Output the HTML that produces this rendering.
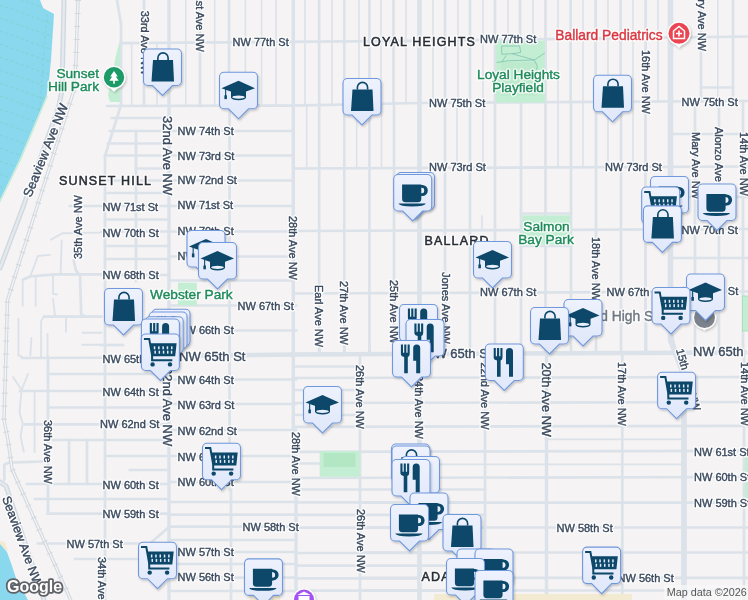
<!DOCTYPE html>
<html><head><meta charset="utf-8"><style>
html,body{margin:0;padding:0;width:748px;height:600px;overflow:hidden;background:#f5f3f3}
svg text{font-family:"Liberation Sans",sans-serif}
svg{will-change:transform}
</style></head><body>
<svg width="748" height="600" viewBox="0 0 748 600" style="position:absolute;left:0;top:0">
<defs>
<linearGradient id="mg" x1="0" y1="0" x2="0" y2="1"><stop offset="0" stop-color="#eef2fd"/><stop offset="1" stop-color="#dfe7fa"/></linearGradient>
<filter id="sh" x="-30%" y="-30%" width="160%" height="160%"><feDropShadow dx="1" dy="1.5" stdDeviation="1.2" flood-color="#000" flood-opacity="0.22"/></filter>
<g id="bub"><path d="M-14.5,-46.5 H14.5 A4.5,4.5 0 0 1 19,-42 V-14.5 A4.5,4.5 0 0 1 14.5,-10 H10 L0,0 L-10,-10 H-14.5 A4.5,4.5 0 0 1 -19,-14.5 V-42 A4.5,4.5 0 0 1 -14.5,-46.5 Z" fill="url(#mg)" stroke="#7098dc" stroke-width="1.1"/></g>
<g id="i_bag" fill="#094769"><path d="M-9.5,-35.5 H10.5 L11.5,-14 H-11 Z"/><path d="M-4.6,-35.5 V-37.6 A5.1,5 0 0 1 5.6,-37.6 V-35.5" fill="none" stroke="#094769" stroke-width="1.6"/></g>
<g id="i_cap" fill="#094769"><path d="M0,-38 L16.5,-30.5 L0,-24.5 L-17,-30.5 Z"/><path d="M-7.5,-28.5 L0,-25.8 L7.5,-28.5 V-21.2 A7.5,2.6 0 0 1 -7.5,-21.2 Z"/><ellipse cx="0" cy="-21.6" rx="6.3" ry="1.6" fill="#e9eefb"/><rect x="-13.4" y="-30" width="1.1" height="8"/><path d="M-14.1,-23.5 h2.5 v3.8 h-2.5z"/></g>
<g id="i_food" fill="#094769"><path d="M-10.6,-42.5 h2.1 v8.3 h1.25 v-8.3 h2.1 v8.3 h1.25 v-8.3 h2.1 v9.5 Q-1.8,-30.6 -3.7,-30 V-13.8 h-3.6 V-30 Q-10.6,-30.6 -10.6,-33 Z"/><path d="M5.2,-42.5 A3.5,3.5 0 0 1 8.7,-39 V-13.8 h-4 V-26.2 h-3 V-39 A3.5,3.5 0 0 1 5.2,-42.5 Z"/></g>
<g id="i_coffee" fill="#094769"><path d="M-10.6,-36.6 H8.6 V-22 A3.5,3.5 0 0 1 5.1,-18.7 H-7.1 A3.5,3.5 0 0 1 -10.6,-22 Z"/><path d="M8.6,-36 A5.6,5.6 0 0 1 8.6,-25 V-27.6 A3,2.8 0 0 0 8.6,-33.4 Z"/><path d="M8,-36 h1.5 a5.6,5.5 0 0 1 0,11 h-1.5 v-2.6 h1.2 a2.6,2.9 0 0 0 0,-5.8 h-1.2z"/><path d="M-14.3,-17.5 H13.2 Q12,-14.6 -0.5,-14.6 Q-13,-14.6 -14.3,-17.5 Z"/></g>
<g id="i_cart" fill="#094769"><path d="M-16.5,-41.6 H-11.2 L-8.3,-25.3 H13.9 L15.1,-36.3 H-10.1" fill="none" stroke="#094769" stroke-width="2"/><path d="M-10.1,-36.3 H15.1 L13.9,-25.3 H-8.3 Z"/><path d="M-8.3,-25.3 V-20.2 H11.9" fill="none" stroke="#094769" stroke-width="2"/><circle cx="-7.8" cy="-16.1" r="2.2"/><circle cx="9.6" cy="-16.1" r="2.2"/><g fill="#e4ebfb"><rect x="-6.6" y="-34.2" width="1.5" height="3"/><rect x="-2.3" y="-34.2" width="1.5" height="3"/><rect x="2" y="-34.2" width="1.5" height="3"/><rect x="6.3" y="-34.2" width="1.5" height="3"/><rect x="10.6" y="-34.2" width="1.5" height="3"/><rect x="-6" y="-29.8" width="1.5" height="3"/><rect x="-1.8" y="-29.8" width="1.5" height="3"/><rect x="2.4" y="-29.8" width="1.5" height="3"/><rect x="6.6" y="-29.8" width="1.5" height="3"/><rect x="10.4" y="-29.8" width="1.5" height="3"/></g></g>
</defs>
<rect width="748" height="600" fill="#f5f3f3"/>
<path d="M0,0 L40,0 L43,8 L54,14 L51,60 L49,80 L46.5,96 L20,158.5 L0,200 Z" fill="#8ad8ee"/>
<clipPath id="wc"><path d="M0,0 L40,0 L43,8 L54,14 L51,60 L49,80 L46.5,96 L20,158.5 L0,200 Z"/></clipPath>
<g clip-path="url(#wc)" stroke="#7ccfc4" stroke-width="0.9" stroke-dasharray="3 2.5" opacity="0.75"><line x1="0" y1="-8" x2="56" y2="12"/><line x1="0" y1="5" x2="56" y2="25"/><line x1="0" y1="18" x2="56" y2="38"/><line x1="0" y1="31" x2="56" y2="51"/><line x1="0" y1="44" x2="56" y2="64"/><line x1="0" y1="57" x2="56" y2="77"/><line x1="0" y1="70" x2="56" y2="90"/><line x1="0" y1="83" x2="56" y2="103"/><line x1="0" y1="96" x2="56" y2="116"/><line x1="0" y1="109" x2="56" y2="129"/><line x1="0" y1="122" x2="56" y2="142"/><line x1="0" y1="135" x2="56" y2="155"/><line x1="0" y1="148" x2="56" y2="168"/><line x1="0" y1="161" x2="56" y2="181"/><line x1="0" y1="174" x2="56" y2="194"/><line x1="0" y1="187" x2="56" y2="207"/><line x1="47" y1="14" x2="38" y2="130"/></g>
<path d="M46.5,96 L20,158.5 L0,200 L0,203 L21.5,159 L48,96 Z" fill="#c8ecd5"/>
<path d="M0,541 L5,542 L8,551 L0,548 Z" fill="#f3ead2"/>
<path d="M0,544 L7,552 L11.7,565 L16.3,579 L28,600 L0,600 Z" fill="#8ad8ee"/>
<line x1="144" y1="0" x2="144" y2="105.92" stroke="#dce2e9" stroke-width="2.7" stroke-linecap="square"/>
<line x1="185.8" y1="0" x2="185.8" y2="105.82962162162161" stroke="#dce2e9" stroke-width="1.6" stroke-linecap="square"/>
<line x1="200" y1="0" x2="200" y2="105.79891891891891" stroke="#dce2e9" stroke-width="2.7" stroke-linecap="square"/>
<line x1="214.7" y1="0" x2="214.7" y2="105.76713513513513" stroke="#dce2e9" stroke-width="1.6" stroke-linecap="square"/>
<line x1="245.4" y1="0" x2="245.4" y2="105.70075675675675" stroke="#dce2e9" stroke-width="1.6" stroke-linecap="square"/>
<line x1="261.6" y1="0" x2="261.6" y2="105.66572972972972" stroke="#dce2e9" stroke-width="1.6" stroke-linecap="square"/>
<line x1="276" y1="0" x2="276" y2="105.63459459459459" stroke="#dce2e9" stroke-width="1.6" stroke-linecap="square"/>
<line x1="305" y1="0" x2="305" y2="105.33385826771654" stroke="#dce2e9" stroke-width="1.6" stroke-linecap="square"/>
<line x1="332" y1="0" x2="332" y2="104.78110236220472" stroke="#dce2e9" stroke-width="1.6" stroke-linecap="square"/>
<line x1="359" y1="0" x2="359" y2="104.2283464566929" stroke="#dce2e9" stroke-width="1.6" stroke-linecap="square"/>
<line x1="381" y1="0" x2="381" y2="103.77795275590552" stroke="#dce2e9" stroke-width="1.6" stroke-linecap="square"/>
<line x1="393.5" y1="0" x2="393.5" y2="103.52204724409448" stroke="#dce2e9" stroke-width="2.7" stroke-linecap="square"/>
<line x1="406" y1="0" x2="406" y2="103.26614173228346" stroke="#dce2e9" stroke-width="1.6" stroke-linecap="square"/>
<line x1="433" y1="0" x2="433" y2="102.91489361702128" stroke="#dce2e9" stroke-width="1.6" stroke-linecap="square"/>
<line x1="445" y1="0" x2="445" y2="102.8419452887538" stroke="#dce2e9" stroke-width="2.7" stroke-linecap="square"/>
<line x1="458" y1="0" x2="458" y2="102.7629179331307" stroke="#dce2e9" stroke-width="1.6" stroke-linecap="square"/>
<line x1="470" y1="0" x2="470" y2="102.68996960486322" stroke="#dce2e9" stroke-width="2.7" stroke-linecap="square"/>
<line x1="483" y1="0" x2="483" y2="102.61094224924013" stroke="#dce2e9" stroke-width="1.6" stroke-linecap="square"/>
<line x1="495" y1="0" x2="495" y2="102.53799392097264" stroke="#dce2e9" stroke-width="2.7" stroke-linecap="square"/>
<line x1="508" y1="0" x2="508" y2="102.45896656534954" stroke="#dce2e9" stroke-width="1.6" stroke-linecap="square"/>
<line x1="520" y1="0" x2="520" y2="102.38601823708207" stroke="#dce2e9" stroke-width="2.7" stroke-linecap="square"/>
<line x1="533" y1="0" x2="533" y2="102.30699088145897" stroke="#dce2e9" stroke-width="1.6" stroke-linecap="square"/>
<line x1="545.5" y1="0" x2="545.5" y2="102.23100303951368" stroke="#dce2e9" stroke-width="2.7" stroke-linecap="square"/>
<line x1="558" y1="0" x2="558" y2="102.15501519756839" stroke="#dce2e9" stroke-width="1.6" stroke-linecap="square"/>
<line x1="570.6" y1="0" x2="570.6" y2="102.07841945288754" stroke="#dce2e9" stroke-width="2.7" stroke-linecap="square"/>
<line x1="583" y1="0" x2="583" y2="102.0030395136778" stroke="#dce2e9" stroke-width="1.6" stroke-linecap="square"/>
<line x1="595.6" y1="0" x2="595.6" y2="101.92644376899696" stroke="#dce2e9" stroke-width="2.7" stroke-linecap="square"/>
<line x1="608" y1="0" x2="608" y2="101.85106382978724" stroke="#dce2e9" stroke-width="1.6" stroke-linecap="square"/>
<line x1="620.6" y1="0" x2="620.6" y2="101.77446808510638" stroke="#dce2e9" stroke-width="2.7" stroke-linecap="square"/>
<line x1="633" y1="0" x2="633" y2="101.69908814589665" stroke="#dce2e9" stroke-width="1.6" stroke-linecap="square"/>
<line x1="645.6" y1="0" x2="645.6" y2="101.62249240121581" stroke="#dce2e9" stroke-width="2.7" stroke-linecap="square"/>
<line x1="658" y1="0" x2="658" y2="101.54711246200608" stroke="#dce2e9" stroke-width="1.6" stroke-linecap="square"/>
<line x1="701" y1="0" x2="701" y2="101.28571428571429" stroke="#dce2e9" stroke-width="2.7" stroke-linecap="square"/>
<line x1="717.8" y1="0" x2="717.8" y2="101.18358662613981" stroke="#dce2e9" stroke-width="1.6" stroke-linecap="square"/>
<line x1="733" y1="0" x2="733" y2="101.09118541033435" stroke="#dce2e9" stroke-width="2.7" stroke-linecap="square"/>
<line x1="131.7" y1="43.01484429065744" x2="131.7" y2="105.9465945945946" stroke="#dce2e9" stroke-width="1.6" stroke-linecap="square"/>
<line x1="157" y1="42.813494809688585" x2="157" y2="105.89189189189189" stroke="#dce2e9" stroke-width="1.6" stroke-linecap="square"/>
<line x1="229" y1="0" x2="229" y2="105.7362162162162" stroke="#dce2e9" stroke-width="2.7" stroke-linecap="square"/>
<line x1="319.2" y1="0" x2="319.2" y2="105.04314960629921" stroke="#dce2e9" stroke-width="2.7" stroke-linecap="square"/>
<line x1="344.3" y1="0" x2="344.3" y2="104.52929133858268" stroke="#dce2e9" stroke-width="2.7" stroke-linecap="square"/>
<line x1="369.4" y1="0" x2="369.4" y2="104.01543307086614" stroke="#dce2e9" stroke-width="2.7" stroke-linecap="square"/>
<polyline points="121,43.1 410,40.8 748,36.5" fill="none" stroke="#dce2e9" stroke-width="2.7" stroke-linejoin="round" stroke-linecap="round"/>
<polyline points="107,106.0 292,105.6 419,103.0 748,101.0" fill="none" stroke="#dce2e9" stroke-width="2.7" stroke-linejoin="round" stroke-linecap="round"/>
<polyline points="117,0 119,12 121,24 121,105" fill="none" stroke="#dce2e9" stroke-width="2.7" stroke-linejoin="round" stroke-linecap="round"/>
<polyline points="121,105 105,156 105,600" fill="none" stroke="#dce2e9" stroke-width="2.7" stroke-linejoin="round" stroke-linecap="round"/>
<line x1="112" y1="118" x2="169" y2="118" stroke="#dce2e9" stroke-width="2.7" stroke-linecap="square"/>
<line x1="110" y1="131" x2="293.3" y2="131" stroke="#dce2e9" stroke-width="2.7" stroke-linecap="square"/>
<line x1="108" y1="143.5" x2="169" y2="143.5" stroke="#dce2e9" stroke-width="2.7" stroke-linecap="square"/>
<line x1="105" y1="155.5" x2="293.3" y2="155.5" stroke="#dce2e9" stroke-width="2.7" stroke-linecap="square"/>
<line x1="136" y1="168.5" x2="169" y2="168.5" stroke="#dce2e9" stroke-width="2.7" stroke-linecap="square"/>
<line x1="105" y1="180.5" x2="293.3" y2="180.5" stroke="#dce2e9" stroke-width="2.7" stroke-linecap="square"/>
<line x1="105" y1="193" x2="169" y2="193" stroke="#dce2e9" stroke-width="2.7" stroke-linecap="square"/>
<line x1="70" y1="206" x2="293.3" y2="206" stroke="#dce2e9" stroke-width="2.7" stroke-linecap="square"/>
<line x1="105" y1="219.5" x2="169" y2="219.5" stroke="#dce2e9" stroke-width="2.7" stroke-linecap="square"/>
<line x1="101.7" y1="231.5" x2="293.3" y2="231.5" stroke="#dce2e9" stroke-width="2.7" stroke-linecap="square"/>
<line x1="105" y1="246" x2="169" y2="246" stroke="#dce2e9" stroke-width="2.7" stroke-linecap="square"/>
<line x1="169" y1="256.5" x2="293.3" y2="256.5" stroke="#dce2e9" stroke-width="2.7" stroke-linecap="square"/>
<line x1="105" y1="259" x2="169" y2="259" stroke="#dce2e9" stroke-width="2.7" stroke-linecap="square"/>
<line x1="101.7" y1="275" x2="169" y2="275" stroke="#dce2e9" stroke-width="2.7" stroke-linecap="square"/>
<line x1="169" y1="280.5" x2="293.3" y2="280.5" stroke="#dce2e9" stroke-width="2.7" stroke-linecap="square"/>
<line x1="136" y1="131" x2="136" y2="281" stroke="#dce2e9" stroke-width="2.7" stroke-linecap="square"/>
<line x1="229.5" y1="105" x2="229.5" y2="490" stroke="#dce2e9" stroke-width="2.7" stroke-linecap="square"/>
<line x1="231" y1="490" x2="231" y2="600" stroke="#dce2e9" stroke-width="2.7" stroke-linecap="square"/>
<line x1="78" y1="207" x2="78" y2="256" stroke="#dce2e9" stroke-width="2.7" stroke-linecap="square"/>
<line x1="319.2" y1="105.04314960629921" x2="319.2" y2="353" stroke="#dce2e9" stroke-width="2.7" stroke-linecap="square"/>
<line x1="344.3" y1="104.52929133858268" x2="344.3" y2="353" stroke="#dce2e9" stroke-width="2.7" stroke-linecap="square"/>
<line x1="369.4" y1="104.01543307086614" x2="369.4" y2="353" stroke="#dce2e9" stroke-width="2.7" stroke-linecap="square"/>
<line x1="394" y1="103.51181102362204" x2="394" y2="353" stroke="#dce2e9" stroke-width="2.7" stroke-linecap="square"/>
<line x1="445" y1="102.8419452887538" x2="445" y2="353" stroke="#dce2e9" stroke-width="2.7" stroke-linecap="square"/>
<line x1="470" y1="102.68996960486322" x2="470" y2="353" stroke="#dce2e9" stroke-width="2.7" stroke-linecap="square"/>
<line x1="495" y1="102.53799392097264" x2="495" y2="353" stroke="#dce2e9" stroke-width="2.7" stroke-linecap="square"/>
<line x1="521" y1="102.37993920972644" x2="521" y2="353" stroke="#dce2e9" stroke-width="2.7" stroke-linecap="square"/>
<line x1="545.5" y1="102.23100303951368" x2="545.5" y2="353" stroke="#dce2e9" stroke-width="2.7" stroke-linecap="square"/>
<line x1="571" y1="102.07598784194529" x2="571" y2="353" stroke="#dce2e9" stroke-width="2.7" stroke-linecap="square"/>
<line x1="596" y1="101.92401215805471" x2="596" y2="353" stroke="#dce2e9" stroke-width="2.7" stroke-linecap="square"/>
<line x1="621" y1="101.77203647416414" x2="621" y2="353" stroke="#dce2e9" stroke-width="2.7" stroke-linecap="square"/>
<line x1="645.5" y1="101.62310030395136" x2="645.5" y2="353" stroke="#dce2e9" stroke-width="2.7" stroke-linecap="square"/>
<line x1="695" y1="101.32218844984803" x2="695" y2="353" stroke="#dce2e9" stroke-width="2.7" stroke-linecap="square"/>
<line x1="719" y1="101.17629179331307" x2="719" y2="353" stroke="#dce2e9" stroke-width="2.7" stroke-linecap="square"/>
<line x1="743" y1="101.03039513677811" x2="743" y2="353" stroke="#dce2e9" stroke-width="2.7" stroke-linecap="square"/>
<line x1="306.7" y1="105.29905511811023" x2="306.7" y2="167" stroke="#dce2e9" stroke-width="1.6" stroke-linecap="square"/>
<line x1="356.7" y1="104.27543307086614" x2="356.7" y2="167" stroke="#dce2e9" stroke-width="1.6" stroke-linecap="square"/>
<line x1="381.5" y1="103.76771653543307" x2="381.5" y2="167" stroke="#dce2e9" stroke-width="1.6" stroke-linecap="square"/>
<line x1="457" y1="102.76899696048632" x2="457" y2="167" stroke="#dce2e9" stroke-width="1.6" stroke-linecap="square"/>
<line x1="483" y1="102.61094224924013" x2="483" y2="167" stroke="#dce2e9" stroke-width="1.6" stroke-linecap="square"/>
<line x1="558" y1="102.15501519756839" x2="558" y2="167" stroke="#dce2e9" stroke-width="1.6" stroke-linecap="square"/>
<line x1="583" y1="102.0030395136778" x2="583" y2="167" stroke="#dce2e9" stroke-width="1.6" stroke-linecap="square"/>
<line x1="608" y1="101.85106382978724" x2="608" y2="167" stroke="#dce2e9" stroke-width="1.6" stroke-linecap="square"/>
<line x1="633" y1="101.69908814589665" x2="633" y2="167" stroke="#dce2e9" stroke-width="1.6" stroke-linecap="square"/>
<line x1="293.3" y1="168.5" x2="748" y2="166.5" stroke="#dce2e9" stroke-width="2.7" stroke-linecap="square"/>
<line x1="293.3" y1="231" x2="748" y2="229" stroke="#dce2e9" stroke-width="2.7" stroke-linecap="square"/>
<line x1="293.3" y1="293.5" x2="748" y2="291.5" stroke="#dce2e9" stroke-width="2.7" stroke-linecap="square"/>
<line x1="670.5" y1="134" x2="748" y2="134" stroke="#dce2e9" stroke-width="2.7" stroke-linecap="square"/>
<line x1="670.5" y1="197" x2="748" y2="197" stroke="#dce2e9" stroke-width="2.7" stroke-linecap="square"/>
<line x1="670.5" y1="258" x2="748" y2="258" stroke="#dce2e9" stroke-width="2.7" stroke-linecap="square"/>
<line x1="169" y1="0" x2="169" y2="600" stroke="#dce2e9" stroke-width="3.4" stroke-linecap="square"/>
<line x1="293.3" y1="0" x2="293.3" y2="490" stroke="#dce2e9" stroke-width="3.4" stroke-linecap="square"/>
<line x1="296" y1="490" x2="296" y2="600" stroke="#dce2e9" stroke-width="3.4" stroke-linecap="square"/>
<line x1="419.5" y1="0" x2="419.5" y2="600" stroke="#dce2e9" stroke-width="4.6" stroke-linecap="square"/>
<polyline points="670.5,0 670.5,340 684,375 684,600" fill="none" stroke="#dce2e9" stroke-width="5.6" stroke-linejoin="round" stroke-linecap="round"/>
<line x1="22" y1="358" x2="169" y2="357.5" stroke="#dce2e9" stroke-width="2.7" stroke-linecap="square"/>
<line x1="169" y1="356" x2="293.3" y2="354.5" stroke="#dce2e9" stroke-width="4.6" stroke-linecap="square"/>
<line x1="293.3" y1="354.5" x2="748" y2="352.5" stroke="#dce2e9" stroke-width="4.6" stroke-linecap="square"/>
<line x1="101.7" y1="345" x2="123" y2="345" stroke="#dce2e9" stroke-width="2.7" stroke-linecap="square"/>
<line x1="48" y1="374" x2="169" y2="374" stroke="#dce2e9" stroke-width="2.7" stroke-linecap="square"/>
<line x1="20" y1="391" x2="169" y2="391" stroke="#dce2e9" stroke-width="2.7" stroke-linecap="square"/>
<line x1="48" y1="407.5" x2="169" y2="407.5" stroke="#dce2e9" stroke-width="2.7" stroke-linecap="square"/>
<line x1="25" y1="424.4" x2="169" y2="424.4" stroke="#dce2e9" stroke-width="2.7" stroke-linecap="square"/>
<line x1="53" y1="440" x2="169" y2="440" stroke="#dce2e9" stroke-width="2.7" stroke-linecap="square"/>
<line x1="105" y1="456" x2="169" y2="456" stroke="#dce2e9" stroke-width="2.7" stroke-linecap="square"/>
<line x1="130" y1="470" x2="169" y2="470" stroke="#dce2e9" stroke-width="2.7" stroke-linecap="square"/>
<line x1="27" y1="484" x2="169" y2="484" stroke="#dce2e9" stroke-width="2.7" stroke-linecap="square"/>
<line x1="35" y1="499" x2="169" y2="499" stroke="#dce2e9" stroke-width="2.7" stroke-linecap="square"/>
<line x1="48" y1="513.6" x2="169" y2="513.6" stroke="#dce2e9" stroke-width="2.7" stroke-linecap="square"/>
<line x1="38" y1="543.5" x2="169" y2="543.5" stroke="#dce2e9" stroke-width="2.7" stroke-linecap="square"/>
<line x1="75" y1="559" x2="140" y2="559" stroke="#dce2e9" stroke-width="2.7" stroke-linecap="square"/>
<line x1="169" y1="305.5" x2="296" y2="305.5" stroke="#dce2e9" stroke-width="2.7" stroke-linecap="square"/>
<line x1="169" y1="330.5" x2="296" y2="330.5" stroke="#dce2e9" stroke-width="2.7" stroke-linecap="square"/>
<line x1="169" y1="379.5" x2="296" y2="379.5" stroke="#dce2e9" stroke-width="2.7" stroke-linecap="square"/>
<line x1="169" y1="404" x2="296" y2="404" stroke="#dce2e9" stroke-width="2.7" stroke-linecap="square"/>
<line x1="169" y1="430" x2="296" y2="430" stroke="#dce2e9" stroke-width="2.7" stroke-linecap="square"/>
<line x1="169" y1="456" x2="296" y2="456" stroke="#dce2e9" stroke-width="2.7" stroke-linecap="square"/>
<line x1="169" y1="482" x2="296" y2="482" stroke="#dce2e9" stroke-width="2.7" stroke-linecap="square"/>
<line x1="169" y1="502" x2="296" y2="502" stroke="#dce2e9" stroke-width="2.7" stroke-linecap="square"/>
<line x1="169" y1="514.6" x2="296" y2="514.6" stroke="#dce2e9" stroke-width="2.7" stroke-linecap="square"/>
<line x1="169" y1="526.6" x2="296" y2="526.6" stroke="#dce2e9" stroke-width="2.7" stroke-linecap="square"/>
<line x1="169" y1="540" x2="296" y2="540" stroke="#dce2e9" stroke-width="2.7" stroke-linecap="square"/>
<line x1="169" y1="552" x2="296" y2="552" stroke="#dce2e9" stroke-width="2.7" stroke-linecap="square"/>
<line x1="169" y1="564" x2="296" y2="564" stroke="#dce2e9" stroke-width="2.7" stroke-linecap="square"/>
<line x1="169" y1="577.6" x2="296" y2="577.6" stroke="#dce2e9" stroke-width="2.7" stroke-linecap="square"/>
<line x1="169" y1="591" x2="296" y2="591" stroke="#dce2e9" stroke-width="2.7" stroke-linecap="square"/>
<line x1="48" y1="357" x2="48" y2="513.6" stroke="#dce2e9" stroke-width="2.7" stroke-linecap="square"/>
<line x1="69" y1="440" x2="69" y2="484" stroke="#dce2e9" stroke-width="2.7" stroke-linecap="square"/>
<line x1="87" y1="440" x2="87" y2="484" stroke="#dce2e9" stroke-width="2.7" stroke-linecap="square"/>
<polyline points="34.6,391 34.6,452" fill="none" stroke="#dce2e9" stroke-width="1.9" stroke-linejoin="round" stroke-linecap="round"/>
<polyline points="13,377 21.6,390 28,374" fill="none" stroke="#dce2e9" stroke-width="1.9" stroke-linejoin="round" stroke-linecap="round"/>
<polyline points="21.6,390 19.5,412.8 22.7,423.6 20.6,436.6 23.8,451.7" fill="none" stroke="#dce2e9" stroke-width="1.9" stroke-linejoin="round" stroke-linecap="round"/>
<polyline points="4.3,480 4.3,464.7 8.7,462.6 42.2,461.5" fill="none" stroke="#dce2e9" stroke-width="2.7" stroke-linejoin="round" stroke-linecap="round"/>
<polyline points="50.9,239.7 62.8,233.2 101.7,232.6" fill="none" stroke="#dce2e9" stroke-width="1.9" stroke-linejoin="round" stroke-linecap="round"/>
<polyline points="61.7,240.8 60.6,273.3" fill="none" stroke="#dce2e9" stroke-width="1.9" stroke-linejoin="round" stroke-linecap="round"/>
<polyline points="73.6,260.3 75.8,270 79,274.4" fill="none" stroke="#dce2e9" stroke-width="2.7" stroke-linejoin="round" stroke-linecap="round"/>
<polyline points="22.7,279.8 30.3,276.5 54,274.4 101.7,274.4" fill="none" stroke="#dce2e9" stroke-width="2.7" stroke-linejoin="round" stroke-linecap="round"/>
<polyline points="30.3,276.5 37.9,256 49.8,254.9" fill="none" stroke="#dce2e9" stroke-width="1.9" stroke-linejoin="round" stroke-linecap="round"/>
<polyline points="22.7,279.8 22.7,305.8" fill="none" stroke="#dce2e9" stroke-width="1.9" stroke-linejoin="round" stroke-linecap="round"/>
<polyline points="35.7,277.6 35.7,305.8" fill="none" stroke="#dce2e9" stroke-width="1.9" stroke-linejoin="round" stroke-linecap="round"/>
<polyline points="53,275 53,293.8 57,294.5" fill="none" stroke="#dce2e9" stroke-width="1.9" stroke-linejoin="round" stroke-linecap="round"/>
<polyline points="53,299 55,315.5" fill="none" stroke="#dce2e9" stroke-width="1.9" stroke-linejoin="round" stroke-linecap="round"/>
<polyline points="80,275.5 81.2,314.4 84.4,316.6 101.7,316.6" fill="none" stroke="#dce2e9" stroke-width="2.7" stroke-linejoin="round" stroke-linecap="round"/>
<polyline points="44,316.6 84.4,316.6" fill="none" stroke="#dce2e9" stroke-width="2.7" stroke-linejoin="round" stroke-linecap="round"/>
<polyline points="44,316.6 41.1,321 41.1,357.7" fill="none" stroke="#dce2e9" stroke-width="1.9" stroke-linejoin="round" stroke-linecap="round"/>
<polyline points="66,316.6 66,331.7" fill="none" stroke="#dce2e9" stroke-width="1.9" stroke-linejoin="round" stroke-linecap="round"/>
<polyline points="82.3,332.8 101.7,332.8" fill="none" stroke="#dce2e9" stroke-width="1.9" stroke-linejoin="round" stroke-linecap="round"/>
<polyline points="82.3,344.7 101.7,344.7" fill="none" stroke="#dce2e9" stroke-width="1.9" stroke-linejoin="round" stroke-linecap="round"/>
<polyline points="18.4,318.7 18.4,355.5 22,356.6" fill="none" stroke="#dce2e9" stroke-width="1.9" stroke-linejoin="round" stroke-linecap="round"/>
<polyline points="31.4,338 30.3,355.5" fill="none" stroke="#dce2e9" stroke-width="1.9" stroke-linejoin="round" stroke-linecap="round"/>
<polyline points="47.6,334 47.6,357.7" fill="none" stroke="#dce2e9" stroke-width="1.9" stroke-linejoin="round" stroke-linecap="round"/>
<polyline points="169,527 150,543.5" fill="none" stroke="#dce2e9" stroke-width="2.7" stroke-linejoin="round" stroke-linecap="round"/>
<line x1="360" y1="355" x2="360" y2="600" stroke="#dce2e9" stroke-width="2.7" stroke-linecap="square"/>
<line x1="485" y1="355" x2="485" y2="600" stroke="#dce2e9" stroke-width="2.7" stroke-linecap="square"/>
<line x1="546.5" y1="355" x2="546.5" y2="600" stroke="#dce2e9" stroke-width="3.4" stroke-linecap="square"/>
<line x1="622.3" y1="355" x2="622.3" y2="600" stroke="#dce2e9" stroke-width="2.7" stroke-linecap="square"/>
<line x1="744" y1="355" x2="744" y2="600" stroke="#dce2e9" stroke-width="2.7" stroke-linecap="square"/>
<line x1="319.2" y1="340" x2="319.2" y2="353" stroke="#dce2e9" stroke-width="2.7" stroke-linecap="square"/>
<line x1="344.3" y1="340" x2="344.3" y2="353" stroke="#dce2e9" stroke-width="2.7" stroke-linecap="square"/>
<line x1="369.4" y1="340" x2="369.4" y2="353" stroke="#dce2e9" stroke-width="2.7" stroke-linecap="square"/>
<line x1="293.3" y1="366.5" x2="360" y2="366.5" stroke="#dce2e9" stroke-width="2.7" stroke-linecap="square"/>
<line x1="293.3" y1="390" x2="360" y2="390" stroke="#dce2e9" stroke-width="2.7" stroke-linecap="square"/>
<line x1="293.3" y1="415" x2="360" y2="415" stroke="#dce2e9" stroke-width="2.7" stroke-linecap="square"/>
<line x1="293.3" y1="378" x2="748" y2="377" stroke="#dce2e9" stroke-width="2.7" stroke-linecap="square"/>
<line x1="293.3" y1="403" x2="748" y2="402" stroke="#dce2e9" stroke-width="2.7" stroke-linecap="square"/>
<line x1="293.3" y1="426.8" x2="748" y2="425.8" stroke="#dce2e9" stroke-width="2.7" stroke-linecap="square"/>
<line x1="293.3" y1="451.8" x2="748" y2="450.8" stroke="#dce2e9" stroke-width="2.7" stroke-linecap="square"/>
<line x1="293.3" y1="478" x2="748" y2="477" stroke="#dce2e9" stroke-width="2.7" stroke-linecap="square"/>
<line x1="360" y1="502.6" x2="748" y2="502.6" stroke="#dce2e9" stroke-width="2.7" stroke-linecap="square"/>
<line x1="360" y1="527.5" x2="748" y2="527.5" stroke="#dce2e9" stroke-width="2.7" stroke-linecap="square"/>
<line x1="360" y1="552.5" x2="748" y2="552.5" stroke="#dce2e9" stroke-width="2.7" stroke-linecap="square"/>
<line x1="360" y1="577.8" x2="748" y2="577.8" stroke="#dce2e9" stroke-width="2.7" stroke-linecap="square"/>
<line x1="360" y1="590.5" x2="748" y2="590.5" stroke="#dce2e9" stroke-width="2.7" stroke-linecap="square"/>
<line x1="545.5" y1="439.4" x2="684" y2="439.4" stroke="#dce2e9" stroke-width="1.6" stroke-linecap="square"/>
<line x1="439" y1="464.4" x2="684" y2="464.4" stroke="#dce2e9" stroke-width="1.6" stroke-linecap="square"/>
<line x1="296" y1="463.5" x2="360" y2="463.5" stroke="#dce2e9" stroke-width="2.7" stroke-linecap="square"/>
<line x1="296" y1="489.5" x2="485" y2="489.5" stroke="#dce2e9" stroke-width="2.7" stroke-linecap="square"/>
<line x1="296" y1="502.3" x2="485" y2="502.3" stroke="#dce2e9" stroke-width="2.7" stroke-linecap="square"/>
<line x1="296" y1="514.8" x2="485" y2="514.8" stroke="#dce2e9" stroke-width="2.7" stroke-linecap="square"/>
<line x1="296" y1="527.6" x2="485" y2="527.6" stroke="#dce2e9" stroke-width="2.7" stroke-linecap="square"/>
<line x1="296" y1="553" x2="485" y2="553" stroke="#dce2e9" stroke-width="2.7" stroke-linecap="square"/>
<line x1="296" y1="565.6" x2="485" y2="565.6" stroke="#dce2e9" stroke-width="2.7" stroke-linecap="square"/>
<line x1="296" y1="578.3" x2="485" y2="578.3" stroke="#dce2e9" stroke-width="2.7" stroke-linecap="square"/>
<line x1="296" y1="590.7" x2="485" y2="590.7" stroke="#dce2e9" stroke-width="2.7" stroke-linecap="square"/>
<polyline points="64,0 62,90 59,106 22,210 0,268" fill="none" stroke="#d0d8e0" stroke-width="5" stroke-linejoin="round" stroke-linecap="round"/>
<polyline points="64,0 62,90 59,106 22,210 0,268" fill="none" stroke="#e6eaef" stroke-width="2.2" stroke-linejoin="round" stroke-linecap="round"/>
<polyline points="78,0 76,60 74,90 36,210 7.5,300 4,420 8,440 12,469 70.7,600" fill="none" stroke="#d0d8e0" stroke-width="3.4" stroke-linejoin="round" stroke-linecap="round"/>
<polyline points="78,0 76,60 74,90 36,210 7.5,300 4,420 8,440 12,469 70.7,600" fill="none" stroke="#f5f3f3" stroke-width="1.4" stroke-linejoin="round" stroke-linecap="round"/>
<polyline points="78,0 76,60 74,90 36,210 7.5,300 4,420 8,440 12,469 70.7,600" fill="none" stroke="#d0d8e0" stroke-width="6" stroke-dasharray="1 12"/>
<polyline points="0,482 6,486 44,600" fill="none" stroke="#d0d8e0" stroke-width="5" stroke-linejoin="round" stroke-linecap="round"/>
<polyline points="0,482 6,486 44,600" fill="none" stroke="#e6eaef" stroke-width="2.2" stroke-linejoin="round" stroke-linecap="round"/>
<polyline points="670.5,330 676,352.5" fill="none" stroke="#dce2e9" stroke-width="2.7" stroke-linejoin="round" stroke-linecap="round"/>
<line x1="646.7" y1="320" x2="646.7" y2="351" stroke="#dce2e9" stroke-width="1.6" stroke-linecap="square"/>
<line x1="701" y1="87.5" x2="733" y2="87.5" stroke="#dce2e9" stroke-width="2.7" stroke-linecap="square"/>
<line x1="521" y1="213.5" x2="571" y2="213.5" stroke="#dce2e9" stroke-width="2.7" stroke-linecap="square"/>
<line x1="521" y1="246" x2="571" y2="246" stroke="#dce2e9" stroke-width="2.7" stroke-linecap="square"/>
<line x1="482" y1="216" x2="482" y2="230" stroke="#dce2e9" stroke-width="1.6" stroke-linecap="square"/>
<path d="M120,40 L116,55 L108,95 L110,102 L120,102 Z" fill="#c4eed3"/>
<rect x="495.8" y="40.8" width="49" height="61.9" fill="#c4eed3"/><rect x="501" y="62" width="35.7" height="33.7" fill="#bde9cc"/><g fill="none" stroke="#74bda9" stroke-width="0.7"><path d="M501.7,46 H519.7 L520.6,52.5 L512,53.7 L501.7,54.3 Z"/><path d="M496.5,62.5 L508.7,60.7 L534.3,60 L544.8,53"/><path d="M512,53.7 L534.3,60 L537.3,66 L536.7,70"/><path d="M506.3,55.4 L501.7,62"/></g>
<rect x="522.3" y="215.3" width="47.6" height="29.3" fill="#c4eed3"/>
<rect x="319.7" y="451" width="40.3" height="25.8" fill="#c4eed3"/><rect x="323.5" y="453" width="32" height="14" fill="#b3e6c3"/>
<rect x="178" y="282.7" width="18.8" height="22.7" fill="#c4eed3"/>
<rect x="742.5" y="296" width="6" height="35" fill="#c4eed3" stroke="#9fdcb5" stroke-width="0.8"/><rect x="745" y="451" width="4" height="49" fill="#c4eed3"/>
<rect x="434" y="594" width="198" height="6" fill="#f3ead2"/>
<rect x="250" y="596" width="30" height="4" fill="#f3ead2"/>
<text x="177.5" y="135" font-size="11" text-anchor="start" font-weight="normal" fill="#fff" stroke="#fff" stroke-width="3" stroke-linejoin="round" stroke-opacity="0.9">NW 74th St</text>
<text x="177.5" y="135" font-size="11" text-anchor="start" font-weight="normal" fill="#3b4a5e" stroke="#3b4a5e" stroke-width="0.4">NW 74th St</text>
<text x="177.5" y="159.5" font-size="11" text-anchor="start" font-weight="normal" fill="#fff" stroke="#fff" stroke-width="3" stroke-linejoin="round" stroke-opacity="0.9">NW 73rd St</text>
<text x="177.5" y="159.5" font-size="11" text-anchor="start" font-weight="normal" fill="#3b4a5e" stroke="#3b4a5e" stroke-width="0.4">NW 73rd St</text>
<text x="177.5" y="184" font-size="11" text-anchor="start" font-weight="normal" fill="#fff" stroke="#fff" stroke-width="3" stroke-linejoin="round" stroke-opacity="0.9">NW 72nd St</text>
<text x="177.5" y="184" font-size="11" text-anchor="start" font-weight="normal" fill="#3b4a5e" stroke="#3b4a5e" stroke-width="0.4">NW 72nd St</text>
<text x="177.5" y="209" font-size="11" text-anchor="start" font-weight="normal" fill="#fff" stroke="#fff" stroke-width="3" stroke-linejoin="round" stroke-opacity="0.9">NW 71st St</text>
<text x="177.5" y="209" font-size="11" text-anchor="start" font-weight="normal" fill="#3b4a5e" stroke="#3b4a5e" stroke-width="0.4">NW 71st St</text>
<text x="102.5" y="210.5" font-size="11" text-anchor="start" font-weight="normal" fill="#fff" stroke="#fff" stroke-width="3" stroke-linejoin="round" stroke-opacity="0.9">NW 71st St</text>
<text x="102.5" y="210.5" font-size="11" text-anchor="start" font-weight="normal" fill="#3b4a5e" stroke="#3b4a5e" stroke-width="0.4">NW 71st St</text>
<text x="102.5" y="237" font-size="11" text-anchor="start" font-weight="normal" fill="#fff" stroke="#fff" stroke-width="3" stroke-linejoin="round" stroke-opacity="0.9">NW 70th St</text>
<text x="102.5" y="237" font-size="11" text-anchor="start" font-weight="normal" fill="#3b4a5e" stroke="#3b4a5e" stroke-width="0.4">NW 70th St</text>
<text x="177.5" y="235" font-size="11" text-anchor="start" font-weight="normal" fill="#fff" stroke="#fff" stroke-width="3" stroke-linejoin="round" stroke-opacity="0.9">NW 70th St</text>
<text x="177.5" y="235" font-size="11" text-anchor="start" font-weight="normal" fill="#3b4a5e" stroke="#3b4a5e" stroke-width="0.4">NW 70th St</text>
<text x="177.5" y="260" font-size="11" text-anchor="start" font-weight="normal" fill="#fff" stroke="#fff" stroke-width="3" stroke-linejoin="round" stroke-opacity="0.9">NW 69th St</text>
<text x="177.5" y="260" font-size="11" text-anchor="start" font-weight="normal" fill="#3b4a5e" stroke="#3b4a5e" stroke-width="0.4">NW 69th St</text>
<text x="102.5" y="279" font-size="11" text-anchor="start" font-weight="normal" fill="#fff" stroke="#fff" stroke-width="3" stroke-linejoin="round" stroke-opacity="0.9">NW 68th St</text>
<text x="102.5" y="279" font-size="11" text-anchor="start" font-weight="normal" fill="#3b4a5e" stroke="#3b4a5e" stroke-width="0.4">NW 68th St</text>
<text x="232.5" y="46" font-size="11" text-anchor="start" font-weight="normal" fill="#fff" stroke="#fff" stroke-width="3" stroke-linejoin="round" stroke-opacity="0.9">NW 77th St</text>
<text x="232.5" y="46" font-size="11" text-anchor="start" font-weight="normal" fill="#3b4a5e" stroke="#3b4a5e" stroke-width="0.4">NW 77th St</text>
<text x="480" y="43" font-size="11" text-anchor="start" font-weight="normal" fill="#fff" stroke="#fff" stroke-width="3" stroke-linejoin="round" stroke-opacity="0.9">NW 77th St</text>
<text x="480" y="43" font-size="11" text-anchor="start" font-weight="normal" fill="#3b4a5e" stroke="#3b4a5e" stroke-width="0.4">NW 77th St</text>
<text x="429" y="106.5" font-size="11" text-anchor="start" font-weight="normal" fill="#fff" stroke="#fff" stroke-width="3" stroke-linejoin="round" stroke-opacity="0.9">NW 75th St</text>
<text x="429" y="106.5" font-size="11" text-anchor="start" font-weight="normal" fill="#3b4a5e" stroke="#3b4a5e" stroke-width="0.4">NW 75th St</text>
<text x="681.5" y="105.5" font-size="11" text-anchor="start" font-weight="normal" fill="#fff" stroke="#fff" stroke-width="3" stroke-linejoin="round" stroke-opacity="0.9">NW 75th St</text>
<text x="681.5" y="105.5" font-size="11" text-anchor="start" font-weight="normal" fill="#3b4a5e" stroke="#3b4a5e" stroke-width="0.4">NW 75th St</text>
<text x="429" y="170.5" font-size="11" text-anchor="start" font-weight="normal" fill="#fff" stroke="#fff" stroke-width="3" stroke-linejoin="round" stroke-opacity="0.9">NW 73rd St</text>
<text x="429" y="170.5" font-size="11" text-anchor="start" font-weight="normal" fill="#3b4a5e" stroke="#3b4a5e" stroke-width="0.4">NW 73rd St</text>
<text x="605" y="170.5" font-size="11" text-anchor="start" font-weight="normal" fill="#fff" stroke="#fff" stroke-width="3" stroke-linejoin="round" stroke-opacity="0.9">NW 73rd St</text>
<text x="605" y="170.5" font-size="11" text-anchor="start" font-weight="normal" fill="#3b4a5e" stroke="#3b4a5e" stroke-width="0.4">NW 73rd St</text>
<text x="681.5" y="234" font-size="11" text-anchor="start" font-weight="normal" fill="#fff" stroke="#fff" stroke-width="3" stroke-linejoin="round" stroke-opacity="0.9">NW 70th St</text>
<text x="681.5" y="234" font-size="11" text-anchor="start" font-weight="normal" fill="#3b4a5e" stroke="#3b4a5e" stroke-width="0.4">NW 70th St</text>
<text x="480" y="295.5" font-size="11" text-anchor="start" font-weight="normal" fill="#fff" stroke="#fff" stroke-width="3" stroke-linejoin="round" stroke-opacity="0.9">NW 67th St</text>
<text x="480" y="295.5" font-size="11" text-anchor="start" font-weight="normal" fill="#3b4a5e" stroke="#3b4a5e" stroke-width="0.4">NW 67th St</text>
<text x="606.5" y="295.5" font-size="11" text-anchor="start" font-weight="normal" fill="#fff" stroke="#fff" stroke-width="3" stroke-linejoin="round" stroke-opacity="0.9">NW 67th St</text>
<text x="606.5" y="295.5" font-size="11" text-anchor="start" font-weight="normal" fill="#3b4a5e" stroke="#3b4a5e" stroke-width="0.4">NW 67th St</text>
<text x="682" y="295" font-size="11" text-anchor="start" font-weight="normal" fill="#fff" stroke="#fff" stroke-width="3" stroke-linejoin="round" stroke-opacity="0.9">NW 67th St</text>
<text x="682" y="295" font-size="11" text-anchor="start" font-weight="normal" fill="#3b4a5e" stroke="#3b4a5e" stroke-width="0.4">NW 67th St</text>
<text x="237.5" y="310" font-size="11" text-anchor="start" font-weight="normal" fill="#fff" stroke="#fff" stroke-width="3" stroke-linejoin="round" stroke-opacity="0.9">NW 67th St</text>
<text x="237.5" y="310" font-size="11" text-anchor="start" font-weight="normal" fill="#3b4a5e" stroke="#3b4a5e" stroke-width="0.4">NW 67th St</text>
<text x="177.5" y="334" font-size="11" text-anchor="start" font-weight="normal" fill="#fff" stroke="#fff" stroke-width="3" stroke-linejoin="round" stroke-opacity="0.9">NW 66th St</text>
<text x="177.5" y="334" font-size="11" text-anchor="start" font-weight="normal" fill="#3b4a5e" stroke="#3b4a5e" stroke-width="0.4">NW 66th St</text>
<text x="177.5" y="384" font-size="11" text-anchor="start" font-weight="normal" fill="#fff" stroke="#fff" stroke-width="3" stroke-linejoin="round" stroke-opacity="0.9">NW 64th St</text>
<text x="177.5" y="384" font-size="11" text-anchor="start" font-weight="normal" fill="#3b4a5e" stroke="#3b4a5e" stroke-width="0.4">NW 64th St</text>
<text x="102.5" y="395.5" font-size="11" text-anchor="start" font-weight="normal" fill="#fff" stroke="#fff" stroke-width="3" stroke-linejoin="round" stroke-opacity="0.9">NW 64th St</text>
<text x="102.5" y="395.5" font-size="11" text-anchor="start" font-weight="normal" fill="#3b4a5e" stroke="#3b4a5e" stroke-width="0.4">NW 64th St</text>
<text x="177.5" y="409" font-size="11" text-anchor="start" font-weight="normal" fill="#fff" stroke="#fff" stroke-width="3" stroke-linejoin="round" stroke-opacity="0.9">NW 63rd St</text>
<text x="177.5" y="409" font-size="11" text-anchor="start" font-weight="normal" fill="#3b4a5e" stroke="#3b4a5e" stroke-width="0.4">NW 63rd St</text>
<text x="177.5" y="435" font-size="11" text-anchor="start" font-weight="normal" fill="#fff" stroke="#fff" stroke-width="3" stroke-linejoin="round" stroke-opacity="0.9">NW 62nd St</text>
<text x="177.5" y="435" font-size="11" text-anchor="start" font-weight="normal" fill="#3b4a5e" stroke="#3b4a5e" stroke-width="0.4">NW 62nd St</text>
<text x="100" y="428" font-size="11" text-anchor="start" font-weight="normal" fill="#fff" stroke="#fff" stroke-width="3" stroke-linejoin="round" stroke-opacity="0.9">NW 62nd St</text>
<text x="100" y="428" font-size="11" text-anchor="start" font-weight="normal" fill="#3b4a5e" stroke="#3b4a5e" stroke-width="0.4">NW 62nd St</text>
<text x="177.5" y="460.5" font-size="11" text-anchor="start" font-weight="normal" fill="#fff" stroke="#fff" stroke-width="3" stroke-linejoin="round" stroke-opacity="0.9">NW 61st St</text>
<text x="177.5" y="460.5" font-size="11" text-anchor="start" font-weight="normal" fill="#3b4a5e" stroke="#3b4a5e" stroke-width="0.4">NW 61st St</text>
<text x="177.5" y="485.5" font-size="11" text-anchor="start" font-weight="normal" fill="#fff" stroke="#fff" stroke-width="3" stroke-linejoin="round" stroke-opacity="0.9">NW 60th St</text>
<text x="177.5" y="485.5" font-size="11" text-anchor="start" font-weight="normal" fill="#3b4a5e" stroke="#3b4a5e" stroke-width="0.4">NW 60th St</text>
<text x="102.5" y="489" font-size="11" text-anchor="start" font-weight="normal" fill="#fff" stroke="#fff" stroke-width="3" stroke-linejoin="round" stroke-opacity="0.9">NW 60th St</text>
<text x="102.5" y="489" font-size="11" text-anchor="start" font-weight="normal" fill="#3b4a5e" stroke="#3b4a5e" stroke-width="0.4">NW 60th St</text>
<text x="102.5" y="518" font-size="11" text-anchor="start" font-weight="normal" fill="#fff" stroke="#fff" stroke-width="3" stroke-linejoin="round" stroke-opacity="0.9">NW 59th St</text>
<text x="102.5" y="518" font-size="11" text-anchor="start" font-weight="normal" fill="#3b4a5e" stroke="#3b4a5e" stroke-width="0.4">NW 59th St</text>
<text x="242.5" y="530.5" font-size="11" text-anchor="start" font-weight="normal" fill="#fff" stroke="#fff" stroke-width="3" stroke-linejoin="round" stroke-opacity="0.9">NW 58th St</text>
<text x="242.5" y="530.5" font-size="11" text-anchor="start" font-weight="normal" fill="#3b4a5e" stroke="#3b4a5e" stroke-width="0.4">NW 58th St</text>
<text x="66.5" y="548" font-size="11" text-anchor="start" font-weight="normal" fill="#fff" stroke="#fff" stroke-width="3" stroke-linejoin="round" stroke-opacity="0.9">NW 57th St</text>
<text x="66.5" y="548" font-size="11" text-anchor="start" font-weight="normal" fill="#3b4a5e" stroke="#3b4a5e" stroke-width="0.4">NW 57th St</text>
<text x="177.5" y="555.5" font-size="11" text-anchor="start" font-weight="normal" fill="#fff" stroke="#fff" stroke-width="3" stroke-linejoin="round" stroke-opacity="0.9">NW 57th St</text>
<text x="177.5" y="555.5" font-size="11" text-anchor="start" font-weight="normal" fill="#3b4a5e" stroke="#3b4a5e" stroke-width="0.4">NW 57th St</text>
<text x="177.5" y="580.5" font-size="11" text-anchor="start" font-weight="normal" fill="#fff" stroke="#fff" stroke-width="3" stroke-linejoin="round" stroke-opacity="0.9">NW 56th St</text>
<text x="177.5" y="580.5" font-size="11" text-anchor="start" font-weight="normal" fill="#3b4a5e" stroke="#3b4a5e" stroke-width="0.4">NW 56th St</text>
<text x="694" y="455.5" font-size="11" text-anchor="start" font-weight="normal" fill="#fff" stroke="#fff" stroke-width="3" stroke-linejoin="round" stroke-opacity="0.9">NW 61st St</text>
<text x="694" y="455.5" font-size="11" text-anchor="start" font-weight="normal" fill="#3b4a5e" stroke="#3b4a5e" stroke-width="0.4">NW 61st St</text>
<text x="694" y="480.5" font-size="11" text-anchor="start" font-weight="normal" fill="#fff" stroke="#fff" stroke-width="3" stroke-linejoin="round" stroke-opacity="0.9">NW 60th St</text>
<text x="694" y="480.5" font-size="11" text-anchor="start" font-weight="normal" fill="#3b4a5e" stroke="#3b4a5e" stroke-width="0.4">NW 60th St</text>
<text x="694" y="506.5" font-size="11" text-anchor="start" font-weight="normal" fill="#fff" stroke="#fff" stroke-width="3" stroke-linejoin="round" stroke-opacity="0.9">NW 59th St</text>
<text x="694" y="506.5" font-size="11" text-anchor="start" font-weight="normal" fill="#3b4a5e" stroke="#3b4a5e" stroke-width="0.4">NW 59th St</text>
<text x="556.5" y="531.5" font-size="11" text-anchor="start" font-weight="normal" fill="#fff" stroke="#fff" stroke-width="3" stroke-linejoin="round" stroke-opacity="0.9">NW 58th St</text>
<text x="556.5" y="531.5" font-size="11" text-anchor="start" font-weight="normal" fill="#3b4a5e" stroke="#3b4a5e" stroke-width="0.4">NW 58th St</text>
<text x="617.5" y="581.5" font-size="11" text-anchor="start" font-weight="normal" fill="#fff" stroke="#fff" stroke-width="3" stroke-linejoin="round" stroke-opacity="0.9">NW 56th St</text>
<text x="617.5" y="581.5" font-size="11" text-anchor="start" font-weight="normal" fill="#3b4a5e" stroke="#3b4a5e" stroke-width="0.4">NW 56th St</text>
<text x="102.5" y="362.5" font-size="11" text-anchor="start" font-weight="normal" fill="#fff" stroke="#fff" stroke-width="3" stroke-linejoin="round" stroke-opacity="0.9">NW 65th St</text>
<text x="102.5" y="362.5" font-size="11" text-anchor="start" font-weight="normal" fill="#3b4a5e" stroke="#3b4a5e" stroke-width="0.4">NW 65th St</text>
<text x="179" y="360.5" font-size="13" text-anchor="start" font-weight="normal" fill="#fff" stroke="#fff" stroke-width="3" stroke-linejoin="round" stroke-opacity="0.9">NW 65th St</text>
<text x="179" y="360.5" font-size="13" text-anchor="start" font-weight="normal" fill="#3b4a5e" stroke="#3b4a5e" stroke-width="0.4">NW 65th St</text>
<text x="693" y="356" font-size="13" text-anchor="start" font-weight="normal" fill="#fff" stroke="#fff" stroke-width="3" stroke-linejoin="round" stroke-opacity="0.9">NW 65th St</text>
<text x="693" y="356" font-size="13" text-anchor="start" font-weight="normal" fill="#3b4a5e" stroke="#3b4a5e" stroke-width="0.4">NW 65th St</text>
<text x="141.04" y="10.7" font-size="11" text-anchor="start" font-weight="normal" transform="rotate(90 141.04 10.7)" fill="#fff" stroke="#fff" stroke-width="3" stroke-linejoin="round" stroke-opacity="0.9">33rd Ave NW</text>
<text x="141.04" y="10.7" font-size="11" text-anchor="start" font-weight="normal" transform="rotate(90 141.04 10.7)" fill="#3b4a5e" stroke="#3b4a5e" stroke-width="0.4">33rd Ave NW</text>
<text x="196.04" y="-11.5" font-size="11" text-anchor="start" font-weight="normal" transform="rotate(90 196.04 -11.5)" fill="#fff" stroke="#fff" stroke-width="3" stroke-linejoin="round" stroke-opacity="0.9">31st Ave NW</text>
<text x="196.04" y="-11.5" font-size="11" text-anchor="start" font-weight="normal" transform="rotate(90 196.04 -11.5)" fill="#3b4a5e" stroke="#3b4a5e" stroke-width="0.4">31st Ave NW</text>
<text x="288.54" y="216" font-size="11" text-anchor="start" font-weight="normal" transform="rotate(90 288.54 216)" fill="#fff" stroke="#fff" stroke-width="3" stroke-linejoin="round" stroke-opacity="0.9">28th Ave NW</text>
<text x="288.54" y="216" font-size="11" text-anchor="start" font-weight="normal" transform="rotate(90 288.54 216)" fill="#3b4a5e" stroke="#3b4a5e" stroke-width="0.4">28th Ave NW</text>
<text x="315.04" y="285" font-size="11" text-anchor="start" font-weight="normal" transform="rotate(90 315.04 285)" fill="#fff" stroke="#fff" stroke-width="3" stroke-linejoin="round" stroke-opacity="0.9">Earl Ave NW</text>
<text x="315.04" y="285" font-size="11" text-anchor="start" font-weight="normal" transform="rotate(90 315.04 285)" fill="#3b4a5e" stroke="#3b4a5e" stroke-width="0.4">Earl Ave NW</text>
<text x="340.04" y="281" font-size="11" text-anchor="start" font-weight="normal" transform="rotate(90 340.04 281)" fill="#fff" stroke="#fff" stroke-width="3" stroke-linejoin="round" stroke-opacity="0.9">27th Ave NW</text>
<text x="340.04" y="281" font-size="11" text-anchor="start" font-weight="normal" transform="rotate(90 340.04 281)" fill="#3b4a5e" stroke="#3b4a5e" stroke-width="0.4">27th Ave NW</text>
<text x="390.04" y="280" font-size="11" text-anchor="start" font-weight="normal" transform="rotate(90 390.04 280)" fill="#fff" stroke="#fff" stroke-width="3" stroke-linejoin="round" stroke-opacity="0.9">25th Ave NW</text>
<text x="390.04" y="280" font-size="11" text-anchor="start" font-weight="normal" transform="rotate(90 390.04 280)" fill="#3b4a5e" stroke="#3b4a5e" stroke-width="0.4">25th Ave NW</text>
<text x="442.04" y="272" font-size="11" text-anchor="start" font-weight="normal" transform="rotate(90 442.04 272)" fill="#fff" stroke="#fff" stroke-width="3" stroke-linejoin="round" stroke-opacity="0.9">Jones Ave NW</text>
<text x="442.04" y="272" font-size="11" text-anchor="start" font-weight="normal" transform="rotate(90 442.04 272)" fill="#3b4a5e" stroke="#3b4a5e" stroke-width="0.4">Jones Ave NW</text>
<text x="641.54" y="50" font-size="11" text-anchor="start" font-weight="normal" transform="rotate(90 641.54 50)" fill="#fff" stroke="#fff" stroke-width="3" stroke-linejoin="round" stroke-opacity="0.9">16th Ave NW</text>
<text x="641.54" y="50" font-size="11" text-anchor="start" font-weight="normal" transform="rotate(90 641.54 50)" fill="#3b4a5e" stroke="#3b4a5e" stroke-width="0.4">16th Ave NW</text>
<text x="697.54" y="-16" font-size="11" text-anchor="start" font-weight="normal" transform="rotate(90 697.54 -16)" fill="#fff" stroke="#fff" stroke-width="3" stroke-linejoin="round" stroke-opacity="0.9">Mary Ave NW</text>
<text x="697.54" y="-16" font-size="11" text-anchor="start" font-weight="normal" transform="rotate(90 697.54 -16)" fill="#3b4a5e" stroke="#3b4a5e" stroke-width="0.4">Mary Ave NW</text>
<text x="691.54" y="132" font-size="11" text-anchor="start" font-weight="normal" transform="rotate(90 691.54 132)" fill="#fff" stroke="#fff" stroke-width="3" stroke-linejoin="round" stroke-opacity="0.9">Mary Ave NW</text>
<text x="691.54" y="132" font-size="11" text-anchor="start" font-weight="normal" transform="rotate(90 691.54 132)" fill="#3b4a5e" stroke="#3b4a5e" stroke-width="0.4">Mary Ave NW</text>
<text x="715.04" y="127" font-size="11" text-anchor="start" font-weight="normal" transform="rotate(90 715.04 127)" fill="#fff" stroke="#fff" stroke-width="3" stroke-linejoin="round" stroke-opacity="0.9">Alonzo Ave NW</text>
<text x="715.04" y="127" font-size="11" text-anchor="start" font-weight="normal" transform="rotate(90 715.04 127)" fill="#3b4a5e" stroke="#3b4a5e" stroke-width="0.4">Alonzo Ave NW</text>
<text x="740.04" y="132" font-size="11" text-anchor="start" font-weight="normal" transform="rotate(90 740.04 132)" fill="#fff" stroke="#fff" stroke-width="3" stroke-linejoin="round" stroke-opacity="0.9">14th Ave NW</text>
<text x="740.04" y="132" font-size="11" text-anchor="start" font-weight="normal" transform="rotate(90 740.04 132)" fill="#3b4a5e" stroke="#3b4a5e" stroke-width="0.4">14th Ave NW</text>
<text x="592.04" y="237" font-size="11" text-anchor="start" font-weight="normal" transform="rotate(90 592.04 237)" fill="#fff" stroke="#fff" stroke-width="3" stroke-linejoin="round" stroke-opacity="0.9">18th Ave NW</text>
<text x="592.04" y="237" font-size="11" text-anchor="start" font-weight="normal" transform="rotate(90 592.04 237)" fill="#3b4a5e" stroke="#3b4a5e" stroke-width="0.4">18th Ave NW</text>
<text x="43.54" y="420" font-size="11" text-anchor="start" font-weight="normal" transform="rotate(90 43.54 420)" fill="#fff" stroke="#fff" stroke-width="3" stroke-linejoin="round" stroke-opacity="0.9">36th Ave NW</text>
<text x="43.54" y="420" font-size="11" text-anchor="start" font-weight="normal" transform="rotate(90 43.54 420)" fill="#3b4a5e" stroke="#3b4a5e" stroke-width="0.4">36th Ave NW</text>
<text x="356.04" y="365" font-size="11" text-anchor="start" font-weight="normal" transform="rotate(90 356.04 365)" fill="#fff" stroke="#fff" stroke-width="3" stroke-linejoin="round" stroke-opacity="0.9">26th Ave NW</text>
<text x="356.04" y="365" font-size="11" text-anchor="start" font-weight="normal" transform="rotate(90 356.04 365)" fill="#3b4a5e" stroke="#3b4a5e" stroke-width="0.4">26th Ave NW</text>
<text x="356.84000000000003" y="509" font-size="11" text-anchor="start" font-weight="normal" transform="rotate(90 356.84000000000003 509)" fill="#fff" stroke="#fff" stroke-width="3" stroke-linejoin="round" stroke-opacity="0.9">26th Ave NW</text>
<text x="356.84000000000003" y="509" font-size="11" text-anchor="start" font-weight="normal" transform="rotate(90 356.84000000000003 509)" fill="#3b4a5e" stroke="#3b4a5e" stroke-width="0.4">26th Ave NW</text>
<text x="292.04" y="432" font-size="11" text-anchor="start" font-weight="normal" transform="rotate(90 292.04 432)" fill="#fff" stroke="#fff" stroke-width="3" stroke-linejoin="round" stroke-opacity="0.9">28th Ave NW</text>
<text x="292.04" y="432" font-size="11" text-anchor="start" font-weight="normal" transform="rotate(90 292.04 432)" fill="#3b4a5e" stroke="#3b4a5e" stroke-width="0.4">28th Ave NW</text>
<text x="97.54" y="557" font-size="11" text-anchor="start" font-weight="normal" transform="rotate(90 97.54 557)" fill="#fff" stroke="#fff" stroke-width="3" stroke-linejoin="round" stroke-opacity="0.9">34th Ave NW</text>
<text x="97.54" y="557" font-size="11" text-anchor="start" font-weight="normal" transform="rotate(90 97.54 557)" fill="#3b4a5e" stroke="#3b4a5e" stroke-width="0.4">34th Ave NW</text>
<text x="415.04" y="375" font-size="11" text-anchor="start" font-weight="normal" transform="rotate(90 415.04 375)" fill="#fff" stroke="#fff" stroke-width="3" stroke-linejoin="round" stroke-opacity="0.9">24th Ave NW</text>
<text x="415.04" y="375" font-size="11" text-anchor="start" font-weight="normal" transform="rotate(90 415.04 375)" fill="#3b4a5e" stroke="#3b4a5e" stroke-width="0.4">24th Ave NW</text>
<text x="481.04" y="362.5" font-size="11" text-anchor="start" font-weight="normal" transform="rotate(90 481.04 362.5)" fill="#fff" stroke="#fff" stroke-width="3" stroke-linejoin="round" stroke-opacity="0.9">22nd Ave NW</text>
<text x="481.04" y="362.5" font-size="11" text-anchor="start" font-weight="normal" transform="rotate(90 481.04 362.5)" fill="#3b4a5e" stroke="#3b4a5e" stroke-width="0.4">22nd Ave NW</text>
<text x="617.54" y="362" font-size="11" text-anchor="start" font-weight="normal" transform="rotate(90 617.54 362)" fill="#fff" stroke="#fff" stroke-width="3" stroke-linejoin="round" stroke-opacity="0.9">17th Ave NW</text>
<text x="617.54" y="362" font-size="11" text-anchor="start" font-weight="normal" transform="rotate(90 617.54 362)" fill="#3b4a5e" stroke="#3b4a5e" stroke-width="0.4">17th Ave NW</text>
<text x="741.04" y="362" font-size="11" text-anchor="start" font-weight="normal" transform="rotate(90 741.04 362)" fill="#fff" stroke="#fff" stroke-width="3" stroke-linejoin="round" stroke-opacity="0.9">14th Ave NW</text>
<text x="741.04" y="362" font-size="11" text-anchor="start" font-weight="normal" transform="rotate(90 741.04 362)" fill="#3b4a5e" stroke="#3b4a5e" stroke-width="0.4">14th Ave NW</text>
<text x="541.892" y="362.5" font-size="12.8" text-anchor="start" font-weight="normal" transform="rotate(90 541.892 362.5)" fill="#fff" stroke="#fff" stroke-width="3" stroke-linejoin="round" stroke-opacity="0.9">20th Ave NW</text>
<text x="541.892" y="362.5" font-size="12.8" text-anchor="start" font-weight="normal" transform="rotate(90 541.892 362.5)" fill="#3b4a5e" stroke="#3b4a5e" stroke-width="0.4">20th Ave NW</text>
<text x="31" y="198" font-size="13" text-anchor="start" font-weight="normal" transform="rotate(-68 31 198)" fill="#fff" stroke="#fff" stroke-width="3" stroke-linejoin="round" stroke-opacity="0.9">Seaview Ave NW</text>
<text x="31" y="198" font-size="13" text-anchor="start" font-weight="normal" transform="rotate(-68 31 198)" fill="#3b4a5e" stroke="#3b4a5e" stroke-width="0.4">Seaview Ave NW</text>
<text x="2" y="498" font-size="12.5" text-anchor="start" font-weight="normal" transform="rotate(70 2 498)" fill="#fff" stroke="#fff" stroke-width="3" stroke-linejoin="round" stroke-opacity="0.9">Seaview Ave NW</text>
<text x="2" y="498" font-size="12.5" text-anchor="start" font-weight="normal" transform="rotate(70 2 498)" fill="#3b4a5e" stroke="#3b4a5e" stroke-width="0.4">Seaview Ave NW</text>
<text x="363" y="45.5" font-size="12.5" text-anchor="start" font-weight="normal" letter-spacing="1.16" fill="#fff" stroke="#fff" stroke-width="3" stroke-linejoin="round" stroke-opacity="0.9">LOYAL HEIGHTS</text>
<text x="363" y="45.5" font-size="12.5" text-anchor="start" font-weight="normal" letter-spacing="1.16" fill="#292e36" stroke="#292e36" stroke-width="0.55">LOYAL HEIGHTS</text>
<text x="59" y="184.5" font-size="12.5" text-anchor="start" font-weight="normal" letter-spacing="1.16" fill="#fff" stroke="#fff" stroke-width="3" stroke-linejoin="round" stroke-opacity="0.9">SUNSET HILL</text>
<text x="59" y="184.5" font-size="12.5" text-anchor="start" font-weight="normal" letter-spacing="1.16" fill="#292e36" stroke="#292e36" stroke-width="0.55">SUNSET HILL</text>
<text x="424.5" y="244.5" font-size="12.5" text-anchor="start" font-weight="normal" letter-spacing="1.16" fill="#fff" stroke="#fff" stroke-width="3" stroke-linejoin="round" stroke-opacity="0.9">BALLARD</text>
<text x="424.5" y="244.5" font-size="12.5" text-anchor="start" font-weight="normal" letter-spacing="1.16" fill="#292e36" stroke="#292e36" stroke-width="0.55">BALLARD</text>
<text x="421.5" y="581" font-size="12.5" text-anchor="start" font-weight="normal" letter-spacing="1.16" fill="#fff" stroke="#fff" stroke-width="3" stroke-linejoin="round" stroke-opacity="0.9">ADAMS</text>
<text x="421.5" y="581" font-size="12.5" text-anchor="start" font-weight="normal" letter-spacing="1.16" fill="#292e36" stroke="#292e36" stroke-width="0.55">ADAMS</text>
<text x="99" y="78" font-size="13.7" text-anchor="end" font-weight="normal" fill="#fff" stroke="#fff" stroke-width="3" stroke-linejoin="round" stroke-opacity="0.9">Sunset</text>
<text x="99" y="78" font-size="13.7" text-anchor="end" font-weight="normal" fill="#1e8a5a" stroke="#1e8a5a" stroke-width="0.4">Sunset</text>
<text x="99" y="91" font-size="13.7" text-anchor="end" font-weight="normal" fill="#fff" stroke="#fff" stroke-width="3" stroke-linejoin="round" stroke-opacity="0.9">Hill Park</text>
<text x="99" y="91" font-size="13.7" text-anchor="end" font-weight="normal" fill="#1e8a5a" stroke="#1e8a5a" stroke-width="0.4">Hill Park</text>
<text x="518.5" y="78.5" font-size="13.7" text-anchor="middle" font-weight="normal" fill="#fff" stroke="#fff" stroke-width="3" stroke-linejoin="round" stroke-opacity="0.9">Loyal Heights</text>
<text x="518.5" y="78.5" font-size="13.7" text-anchor="middle" font-weight="normal" fill="#1e8a5a" stroke="#1e8a5a" stroke-width="0.4">Loyal Heights</text>
<text x="518" y="92" font-size="13.7" text-anchor="middle" font-weight="normal" fill="#fff" stroke="#fff" stroke-width="3" stroke-linejoin="round" stroke-opacity="0.9">Playfield</text>
<text x="518" y="92" font-size="13.7" text-anchor="middle" font-weight="normal" fill="#1e8a5a" stroke="#1e8a5a" stroke-width="0.4">Playfield</text>
<text x="546.5" y="230.5" font-size="13.7" text-anchor="middle" font-weight="normal" fill="#fff" stroke="#fff" stroke-width="3" stroke-linejoin="round" stroke-opacity="0.9">Salmon</text>
<text x="546.5" y="230.5" font-size="13.7" text-anchor="middle" font-weight="normal" fill="#1e8a5a" stroke="#1e8a5a" stroke-width="0.4">Salmon</text>
<text x="546" y="243.5" font-size="13.7" text-anchor="middle" font-weight="normal" fill="#fff" stroke="#fff" stroke-width="3" stroke-linejoin="round" stroke-opacity="0.9">Bay Park</text>
<text x="546" y="243.5" font-size="13.7" text-anchor="middle" font-weight="normal" fill="#1e8a5a" stroke="#1e8a5a" stroke-width="0.4">Bay Park</text>
<text x="150" y="298.5" font-size="13.7" text-anchor="start" font-weight="normal" fill="#fff" stroke="#fff" stroke-width="3" stroke-linejoin="round" stroke-opacity="0.9">Webster Park</text>
<text x="150" y="298.5" font-size="13.7" text-anchor="start" font-weight="normal" fill="#1e8a5a" stroke="#1e8a5a" stroke-width="0.4">Webster Park</text>
<text x="555.3" y="40.3" font-size="13.8" text-anchor="start" font-weight="normal" fill="#fff" stroke="#fff" stroke-width="3" stroke-linejoin="round" stroke-opacity="0.9">Ballard Pediatrics</text>
<text x="555.3" y="40.3" font-size="13.8" text-anchor="start" font-weight="normal" fill="#d93843" stroke="#d93843" stroke-width="0.4">Ballard Pediatrics</text>
<text x="565" y="320.5" font-size="13.8" text-anchor="start" font-weight="normal" fill="#fff" stroke="#fff" stroke-width="3" stroke-linejoin="round" stroke-opacity="0.9">Ballard High School</text>
<text x="565" y="320.5" font-size="13.8" text-anchor="start" font-weight="normal" fill="#6f7782" stroke="#6f7782" stroke-width="0.4">Ballard High School</text>
<text x="81.96" y="259" font-size="11" text-anchor="start" font-weight="normal" transform="rotate(-90 81.96 259)" fill="#fff" stroke="#fff" stroke-width="3" stroke-linejoin="round" stroke-opacity="0.9">35th Ave NW</text>
<text x="81.96" y="259" font-size="11" text-anchor="start" font-weight="normal" transform="rotate(-90 81.96 259)" fill="#3b4a5e" stroke="#3b4a5e" stroke-width="0.4">35th Ave NW</text>
<text x="676" y="350" font-size="11" text-anchor="start" font-weight="normal" transform="rotate(74 676 350)" fill="#fff" stroke="#fff" stroke-width="3" stroke-linejoin="round" stroke-opacity="0.9">15th Ave NW</text>
<text x="676" y="350" font-size="11" text-anchor="start" font-weight="normal" transform="rotate(74 676 350)" fill="#3b4a5e" stroke="#3b4a5e" stroke-width="0.4">15th Ave NW</text>
<text x="162.82" y="116" font-size="13" text-anchor="start" font-weight="normal" transform="rotate(90 162.82 116)" fill="#fff" stroke="#fff" stroke-width="3" stroke-linejoin="round" stroke-opacity="0.9">32nd Ave NW</text>
<text x="162.82" y="116" font-size="13" text-anchor="start" font-weight="normal" transform="rotate(90 162.82 116)" fill="#3b4a5e" stroke="#3b4a5e" stroke-width="0.4">32nd Ave NW</text>
<text x="162.82" y="367" font-size="13" text-anchor="start" font-weight="normal" transform="rotate(90 162.82 367)" fill="#fff" stroke="#fff" stroke-width="3" stroke-linejoin="round" stroke-opacity="0.9">32nd Ave NW</text>
<text x="162.82" y="367" font-size="13" text-anchor="start" font-weight="normal" transform="rotate(90 162.82 367)" fill="#3b4a5e" stroke="#3b4a5e" stroke-width="0.4">32nd Ave NW</text>
<text x="425" y="357.5" font-size="13" text-anchor="start" font-weight="normal" fill="#fff" stroke="#fff" stroke-width="3" stroke-linejoin="round" stroke-opacity="0.9">NW 65th St</text>
<text x="425" y="357.5" font-size="13" text-anchor="start" font-weight="normal" fill="#3b4a5e" stroke="#3b4a5e" stroke-width="0.4">NW 65th St</text>
<g transform="translate(162.5,95.5)" filter="url(#sh)"><use href="#bub"/><use href="#i_bag"/></g>
<g transform="translate(238.5,118.8)" filter="url(#sh)"><use href="#bub"/><use href="#i_cap"/></g>
<g transform="translate(362,125)" filter="url(#sh)"><use href="#bub"/><use href="#i_bag"/></g>
<g transform="translate(612.5,121.8)" filter="url(#sh)"><use href="#bub"/><use href="#i_bag"/></g>
<g transform="translate(415.5,219)" filter="url(#sh)"><use href="#bub"/><use href="#i_coffee"/></g>
<g transform="translate(412.7,221)" filter="url(#sh)"><use href="#bub"/><use href="#i_coffee"/></g>
<g transform="translate(492.5,288)" filter="url(#sh)"><use href="#bub"/><use href="#i_cap"/></g>
<g transform="translate(669.5,223)" filter="url(#sh)"><use href="#bub"/><use href="#i_coffee"/></g>
<g transform="translate(660.7,233.5)" filter="url(#sh)"><use href="#bub"/><use href="#i_cart"/></g>
<g transform="translate(662.4,252.4)" filter="url(#sh)"><use href="#bub"/><use href="#i_bag"/></g>
<g transform="translate(717,230.5)" filter="url(#sh)"><use href="#bub"/><use href="#i_coffee"/></g>
<g transform="translate(206,277)" filter="url(#sh)"><use href="#bub"/><use href="#i_cap"/></g>
<g transform="translate(217.5,289)" filter="url(#sh)"><use href="#bub"/><use href="#i_cap"/></g>
<g transform="translate(123.5,335)" filter="url(#sh)"><use href="#bub"/><use href="#i_bag"/></g>
<g transform="translate(171,355.7)" filter="url(#sh)"><use href="#bub"/><use href="#i_food"/></g>
<g transform="translate(168,358.5)" filter="url(#sh)"><use href="#bub"/><use href="#i_food"/></g>
<g transform="translate(164.2,363.2)" filter="url(#sh)"><use href="#bub"/><use href="#i_food"/></g>
<g transform="translate(160.4,365.5)" filter="url(#sh)"><use href="#bub"/><use href="#i_food"/></g>
<g transform="translate(160.4,380.5)" filter="url(#sh)"><use href="#bub"/><use href="#i_cart"/></g>
<g transform="translate(322.5,433)" filter="url(#sh)"><use href="#bub"/><use href="#i_cap"/></g>
<g transform="translate(418.5,351)" filter="url(#sh)"><use href="#bub"/><use href="#i_food"/></g>
<g transform="translate(425,366)" filter="url(#sh)"><use href="#bub"/><use href="#i_food"/></g>
<g transform="translate(411.5,387)" filter="url(#sh)"><use href="#bub"/><use href="#i_food"/></g>
<g transform="translate(504.3,390.5)" filter="url(#sh)"><use href="#bub"/><use href="#i_food"/></g>
<g transform="translate(583,346)" filter="url(#sh)"><use href="#bub"/><use href="#i_cap"/></g>
<g transform="translate(549.5,354)" filter="url(#sh)"><use href="#bub"/><use href="#i_bag"/></g>
<g filter="url(#sh)"><path d="M697.5,325.0 L704.5,330.5 L711.5,325.0 Z" fill="#fff"/><circle cx="704.5" cy="317.5" r="11.8" fill="#fff"/><circle cx="704.5" cy="317.5" r="10.5" fill="#7b838c"/></g>
<g transform="translate(705.5,320.5)" filter="url(#sh)"><use href="#bub"/><use href="#i_cap"/></g>
<g transform="translate(671,334)" filter="url(#sh)"><use href="#bub"/><use href="#i_cart"/></g>
<g transform="translate(676.6,418.7)" filter="url(#sh)"><use href="#bub"/><use href="#i_cart"/></g>
<g transform="translate(221.5,489.7)" filter="url(#sh)"><use href="#bub"/><use href="#i_cart"/></g>
<g transform="translate(157.5,588.7)" filter="url(#sh)"><use href="#bub"/><use href="#i_cart"/></g>
<g transform="translate(263.5,605.4)" filter="url(#sh)"><use href="#bub"/><use href="#i_coffee"/></g>
<g transform="translate(601.6,593.6)" filter="url(#sh)"><use href="#bub"/><use href="#i_cart"/></g>
<g transform="translate(410.5,490.5)" filter="url(#sh)"><use href="#bub"/><use href="#i_bag"/></g>
<g transform="translate(411,492.5)" filter="url(#sh)"><use href="#bub"/><use href="#i_bag"/></g>
<g transform="translate(420.5,503)" filter="url(#sh)"><use href="#bub"/><use href="#i_food"/></g>
<g transform="translate(411,506)" filter="url(#sh)"><use href="#bub"/><use href="#i_food"/></g>
<g transform="translate(429,539.5)" filter="url(#sh)"><use href="#bub"/><use href="#i_coffee"/></g>
<g transform="translate(409.5,551)" filter="url(#sh)"><use href="#bub"/><use href="#i_coffee"/></g>
<g transform="translate(462,561)" filter="url(#sh)"><use href="#bub"/><use href="#i_bag"/></g>
<g transform="translate(476,595.5)" filter="url(#sh)"><use href="#bub"/><use href="#i_coffee"/></g>
<g transform="translate(494,595.5)" filter="url(#sh)"><use href="#bub"/><use href="#i_coffee"/></g>
<g transform="translate(465.5,605)" filter="url(#sh)"><use href="#bub"/><use href="#i_coffee"/></g>
<g transform="translate(494,617)" filter="url(#sh)"><use href="#bub"/><use href="#i_coffee"/></g>
<g filter="url(#sh)"><path d="M107,84.8 L114,91.8 L121,84.8 Z" fill="#fff"/><circle cx="114" cy="77.3" r="11.5" fill="#fff"/><circle cx="114" cy="77.3" r="10.2" fill="#1f9a67"/></g>
<path d="M114,71 L110.2,76.5 h2 L109.3,80.8 h3.9 v2.9 h1.6 v-2.9 h3.9 L115.8,76.5 h2 Z" fill="#fff"/>
<g filter="url(#sh)"><path d="M672,40.8 L679,47.8 L686,40.8 Z" fill="#fff"/><circle cx="679" cy="33.3" r="11.8" fill="#fff"/><circle cx="679" cy="33.3" r="10.5" fill="#ea4453"/></g>
<path d="M673.5,38.5 V31 L679,26.5 L684.5,31 V38.5 Z" fill="none" stroke="#fff" stroke-width="1.5"/><path d="M678.2,30.5 h1.6 v2.2 h2.2 v1.6 h-2.2 v2.2 h-1.6 v-2.2 h-2.2 v-1.6 h2.2z" fill="#fff"/>
<g filter="url(#sh)"><path d="M297,607.0 L304,614.0 L311,607.0 Z" fill="#fff"/><circle cx="304" cy="599.5" r="11.3" fill="#fff"/><circle cx="304" cy="599.5" r="10" fill="#a453f2"/></g>
<path d="M297.5,595 L304,591.5 L310.5,595 Z M298.5,596 h11 v4 h-11z" fill="#fff"/>
<text x="7" y="591.7" font-size="16" font-weight="bold" fill="#fff" stroke="#5f6368" stroke-width="3.6" paint-order="stroke" stroke-linejoin="round" font-family="Liberation Sans, sans-serif">Google</text>
<rect x="664" y="585" width="84" height="15" fill="#f8f8f8" fill-opacity="0.7"/>
<text x="666.7" y="595.8" font-size="10.8" fill="#555" font-family="Liberation Sans, sans-serif">Map data ©2026</text>
</svg>
</body></html>
